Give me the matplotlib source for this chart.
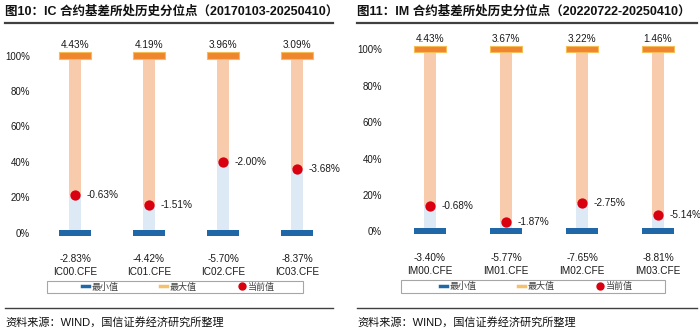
import matplotlib
matplotlib.use("Agg")
import matplotlib.pyplot as plt
from matplotlib.lines import Line2D
from matplotlib.patches import Rectangle

plt.rcParams['font.family'] = ['Liberation Sans', 'Noto Sans CJK SC', 'DejaVu Sans']

# ---------------- data ----------------
ic_title = "图10：IC 合约基差所处历史分位点（20170103-20250410）"
ic_cats = ['IC00.CFE', 'IC01.CFE', 'IC02.CFE', 'IC03.CFE']
ic_max = [4.43, 4.19, 3.96, 3.09]
ic_min = [-2.83, -4.42, -5.70, -8.37]
ic_cur = [-0.63, -1.51, -2.00, -3.68]
ic_pct = [21.3, 15.7, 39.8, 36.0]

im_title = "图11：IM 合约基差所处历史分位点（20220722-20250410）"
im_cats = ['IM00.CFE', 'IM01.CFE', 'IM02.CFE', 'IM03.CFE']
im_max = [4.43, 3.67, 3.22, 1.46]
im_min = [-3.40, -5.77, -7.65, -8.81]
im_cur = [-0.68, -1.87, -2.75, -5.14]
im_pct = [14.0, 5.0, 15.5, 9.0]

yticks = [0, 20, 40, 60, 80, 100]
legend_labels = ['最小值', '最大值', '当前值']
source = "资料来源：WIND，国信证券经济研究所整理"

# ---------------- style ----------------
C_MIN = '#1F67A6'
C_MAX = '#F08530'
C_MAX_EDGE = '#F5BD55'
C_LOW = '#DDE9F5'
C_HIGH = '#F8CBAD'
C_DOT = '#D9000F'
TXT = '#1a1a1a'

W, H = 700, 335
fig = plt.figure(figsize=(W / 100, H / 100), dpi=100)


def px_ax(left, right, y0, y100):
    return [left / W, (H - y0) / H, (right - left) / W, (y0 - y100) / H]


def draw_panel(ax, cats, vmax, vmin, vcur, pct, xlim, cap_h):
    x = list(range(len(cats)))
    ax.set_xlim(*xlim)
    ax.set_ylim(0, 100)
    low = pct
    high = [100 - p for p in pct]
    ax.bar(x, low, width=0.16, color=C_LOW, zorder=1)
    ax.bar(x, high, bottom=pct, width=0.16, color=C_HIGH, zorder=1)
    ax.bar(x, [cap_h] * 4, bottom=-cap_h / 2, width=0.43, color=C_MIN,
           zorder=3, clip_on=False)
    ax.bar(x, [cap_h] * 4, bottom=100 - cap_h / 2, width=0.43, color=C_MAX,
           edgecolor=C_MAX_EDGE, linewidth=0.8, zorder=3, clip_on=False)
    ax.scatter(x, pct, s=55, color=C_DOT, zorder=4, clip_on=False, linewidths=0)
    for i in x:
        ax.annotate(f"{vmax[i]:.2f}%", (i, 100), xytext=(0, 7.5),
                    textcoords='offset points', ha='center', va='center',
                    fontsize=7.2, color=TXT, annotation_clip=False)
        ax.annotate(f"{vmin[i]:.2f}%", (i, 0), xytext=(0, -19.2),
                    textcoords='offset points', ha='center', va='center',
                    fontsize=7.2, color=TXT, annotation_clip=False)
        ax.annotate(cats[i], (i, 0), xytext=(0, -28.4),
                    textcoords='offset points', ha='center', va='center',
                    fontsize=7.2, color=TXT, annotation_clip=False)
        ax.annotate(f"{vcur[i]:.2f}%", (i, pct[i]), xytext=(8, 0),
                    textcoords='offset points', ha='left', va='center',
                    fontsize=7.2, color=TXT, annotation_clip=False)
    ax.set_yticks(yticks)
    ax.set_yticklabels([f"{t}%" for t in yticks], fontsize=7, color=TXT)
    ax.tick_params(axis='y', length=0, pad=3)
    ax.set_xticks([])
    for s in ax.spines.values():
        s.set_visible(False)


ax1 = fig.add_axes(px_ax(34, 334, 232.7, 55.5))
draw_panel(ax1, ic_cats, ic_max, ic_min, ic_cur, ic_pct, (-0.554, 3.5), 3.4)
ax2 = fig.add_axes(px_ax(386, 696, 231.3, 49.3))
draw_panel(ax2, im_cats, im_max, im_min, im_cur, im_pct, (-0.579, 3.5), 3.3)

# titles, rules, legends, source
def header_footer(x0, x1, title, box):
    fig.text(x0 / W, (H - 12) / H, title, fontsize=9.0, fontweight='bold',
             ha='left', va='center', color='#111111')
    fig.add_artist(Line2D([x0 / W, x1 / W], [(H - 22.7) / H] * 2,
                          color='#404040', lw=1.6))
    fig.add_artist(Line2D([x0 / W, x1 / W], [(H - 308) / H] * 2,
                          color='#404040', lw=1.0))
    fig.text(x0 / W, (H - 322) / H, source, fontsize=8, ha='left',
             va='center', color='#111111')
    bx0, bx1, by0, by1 = box
    fig.add_artist(Rectangle((bx0 / W, (H - by1) / H), (bx1 - bx0) / W,
                             (by1 - by0) / H, transform=fig.transFigure,
                             fill=False, edgecolor='#A6A6A6', lw=0.8))
    handles = [Line2D([], [], color=C_MIN, lw=2.5),
               Line2D([], [], color='#F5C26B', lw=2.5),
               Line2D([], [], color=C_DOT, marker='o', ls='none', markersize=5)]
    fig.legend(handles, legend_labels, ncol=3, frameon=False,
               loc='center', bbox_to_anchor=((bx0 + bx1) / 2 / W + 0.005,
                                             (H - (by0 + by1) / 2) / H),
               fontsize=6.5, handlelength=0.8, handletextpad=0.3,
               columnspacing=4.6, labelcolor='#404040', borderpad=0)


header_footer(5, 333, ic_title, (47, 303, 281, 293))
header_footer(357, 697, im_title, (401, 665, 280, 293))

fig.savefig('out.png', dpi=100)
